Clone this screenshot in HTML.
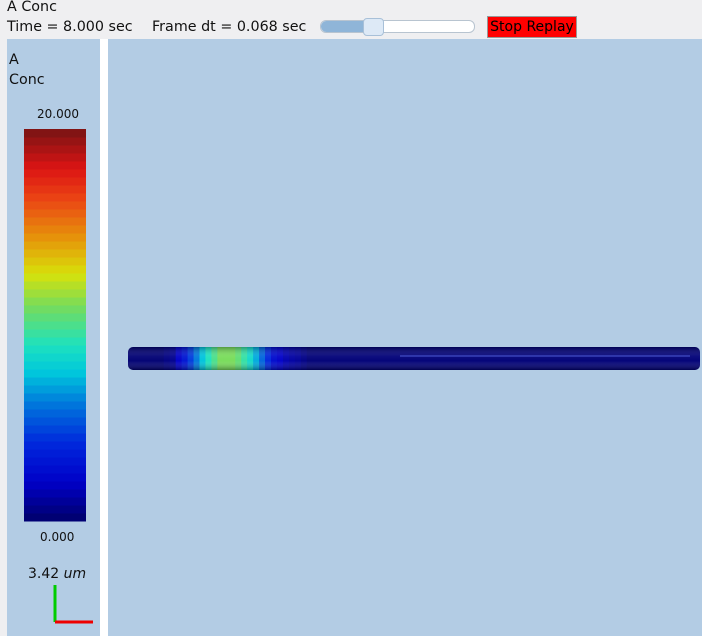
<!DOCTYPE html>
<html><head><meta charset="utf-8"><style>
body{margin:0;width:702px;height:636px;overflow:hidden;background:#efeff1;font-family:"DejaVu Sans","Liberation Sans",sans-serif;position:relative}
.t{position:absolute;font-size:14.3px;color:#111;white-space:nowrap}
</style></head><body>
<div class="t" style="left:7px;top:-1px">A Conc</div>
<div class="t" style="left:7px;top:19px">Time = 8.000 sec</div>
<div class="t" style="left:152px;top:19px">Frame dt = 0.068 sec</div>
<div style="position:absolute;left:320px;top:20px;width:153px;height:11px;border:1px solid #b8c4d0;border-radius:6px;background:#fff">
 <div style="position:absolute;left:0;top:0;width:48px;height:11px;background:#8fb5d8;border-radius:6px 0 0 6px"></div>
 <div style="position:absolute;left:42px;top:-3px;width:19px;height:16px;background:#dde9f6;border:1px solid #a8c0d8;border-radius:4px"></div>
</div>
<div style="position:absolute;left:487px;top:16px;width:90px;height:22px;background:#ff0000;border:1px solid #999;box-sizing:border-box;font-size:14px;line-height:20px;text-align:center;color:#000">Stop Replay</div>
<div style="position:absolute;left:7px;top:39px;width:93px;height:597px;background:#b3cce4"></div>
<div style="position:absolute;left:100px;top:39px;width:8px;height:597px;background:#fff"></div>
<div style="position:absolute;left:108px;top:39px;width:594px;height:597px;background:#b3cce4"></div>
<div class="t" style="left:9px;top:50px;line-height:20px">A<br>Conc</div>
<div class="t" style="left:37px;top:107px;font-size:12px">20.000</div>
<div class="t" style="left:40px;top:530px;font-size:12px">0.000</div>
<div class="t" style="left:28px;top:566px;font-size:14px">3.42 <i>um</i></div>
<svg width="702" height="636" style="position:absolute;left:0;top:0">
 <g id="cb"></g>
 <line x1="55" y1="585" x2="55" y2="622" stroke="#00cc00" stroke-width="3"/>
 <line x1="55" y1="622" x2="93" y2="622" stroke="#ee0000" stroke-width="3"/>
 <defs><linearGradient id="sh" x1="0" y1="0" x2="0" y2="1">
  <stop offset="0" stop-color="#000" stop-opacity="0.3"/><stop offset="0.4" stop-color="#fff" stop-opacity="0.06"/>
  <stop offset="0.6" stop-color="#fff" stop-opacity="0.02"/><stop offset="1" stop-color="#000" stop-opacity="0.35"/></linearGradient>
  <clipPath id="cc"><rect x="128" y="347" width="572" height="23" rx="5"/></clipPath></defs>
 <g id="cable" clip-path="url(#cc)"></g>
 <rect x="128" y="347" width="572" height="23" rx="5" fill="url(#sh)" clip-path="url(#cc)"/>
 <line x1="400" y1="356" x2="690" y2="356" stroke="#6a80ff" stroke-opacity="0.45" stroke-width="1.5"/>
</svg>
<script>
const vmin=0, vmax=20;
const segValues=[0.2,0.2,0.2,0.2,0.2,0.2,0.5,0.8,2,3,4.5,6,7.5,9,10,11,11,11,10.5,9.5,8.5,7,5.5,4,2.5,2,1.5,1.2,1,0.6];
const segCount=96;
const cmapT=[0,0.1,0.2,0.3,0.38,0.45,0.55,0.63,0.72,0.82,0.9,1];
const cmapC=[[0,0,105],[0,0,200],[0,40,220],[0,120,220],[0,200,220],[30,225,190],[120,220,90],[215,225,10],[230,150,10],[235,70,20],[220,20,20],[120,20,20]];
function cmap(t){t=Math.max(0,Math.min(1,t));
 let k=0;while(k<cmapT.length-2&&t>cmapT[k+1])k++;
 const f=(t-cmapT[k])/(cmapT[k+1]-cmapT[k]);const a=cmapC[k],b=cmapC[k+1];
 return `rgb(${Math.round(a[0]+(b[0]-a[0])*f)},${Math.round(a[1]+(b[1]-a[1])*f)},${Math.round(a[2]+(b[2]-a[2])*f)})`;}
const NS="http://www.w3.org/2000/svg";
const cx0=128,cx1=700,sw=(cx1-cx0)/segCount;
const cable=document.getElementById('cable');
for(let i=0;i<segCount;i++){
 const v=i<segValues.length?segValues[i]:0.3;
 const r=document.createElementNS(NS,'rect');
 r.setAttribute('x',cx0+i*sw);r.setAttribute('y',347);r.setAttribute('width',sw+0.6);r.setAttribute('height',23);
 r.setAttribute('fill',cmap((v-vmin)/(vmax-vmin)));
 
 
 cable.appendChild(r);}
const cb=document.getElementById('cb');const nb=49,cbTop=129,cbBot=521;
for(let i=0;i<nb;i++){
 const r=document.createElementNS(NS,'rect');const h=(cbBot-cbTop)/nb;
 r.setAttribute('x',24);r.setAttribute('y',cbBot-(i+1)*h);r.setAttribute('width',62);r.setAttribute('height',h+0.5);
 r.setAttribute('fill',cmap((i+0.5)/nb));
 
 
 cb.appendChild(r);}
</script>
</body></html>
